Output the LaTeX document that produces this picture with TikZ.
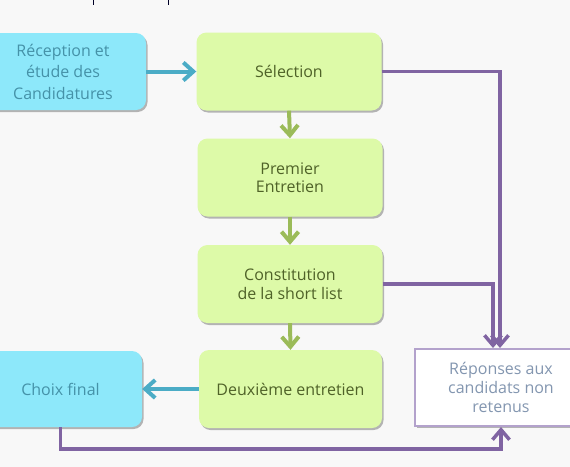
\documentclass[tikz,border=0pt]{standalone}
\usepackage{fontspec}
\setmainfont{Open Sans}
\usetikzlibrary{arrows.meta,shadows}
\definecolor{bg}{HTML}{F8F8F8}
\definecolor{cyanfill}{HTML}{8DE8FA}
\definecolor{cyantext}{HTML}{4592A8}
\definecolor{cyanline}{HTML}{4BACC6}
\definecolor{greenfill}{HTML}{DDFAA8}
\definecolor{greentext}{HTML}{4F6228}
\definecolor{greenline}{HTML}{9BBB59}
\definecolor{purpline}{HTML}{8064A2}
\definecolor{purpborder}{HTML}{B3A2CC}
\definecolor{greytext}{HTML}{8396B0}
\tikzset{
  boxshadow/.style={drop shadow={shadow xshift=1.5pt,shadow yshift=-2pt,opacity=0.4,fill=black!70}},
  boxfont/.style={font=\fontsize{16}{18.5}\selectfont},
  widefont/.style={font=\fontsize{16}{21.5}\selectfont},
  cyanbox/.style={rectangle,rounded corners=10pt,fill=cyanfill,text=cyantext,align=center,boxshadow,boxfont,inner sep=0pt},
  greenbox/.style={rectangle,rounded corners=10pt,fill=greenfill,text=greentext,align=center,boxshadow,boxfont,inner sep=0pt,minimum width=185pt,minimum height=78pt},
  whitebox/.style={rectangle,fill=white,draw=purpborder,line width=2pt,text=greytext,align=center,boxshadow,font=\fontsize{16}{19}\selectfont,inner sep=0pt},
  cyanarrow/.style={draw=cyanline,line width=4pt,-{Straight Barb[length=10pt,width=18pt]}},
  greenarrow/.style={draw=greenline,line width=4pt,-{Straight Barb[length=10pt,width=17pt]}},
  purparrow/.style={draw=purpline,line width=3.5pt,-{Straight Barb[length=10pt,width=17pt]}},
  frag/.style={draw=black!85!blue,line width=1pt}
}
\begin{document}
\begin{tikzpicture}[x=1pt,y=-1pt]
\useasboundingbox (0,0) rectangle (570,466);
\clip (0,0) rectangle (570,466);
\fill[bg] (-5,-5) rectangle (575,471);
% fragments at top
\coordinate (f1a) at (93.5,0); \coordinate (f1b) at (93.5,5);
\coordinate (f2a) at (168.5,0); \coordinate (f2b) at (168.5,5);
\draw[frag] (f1a) -- (f1b);
\draw[frag] (f2a) -- (f2b);
% nodes
\node[cyanbox,widefont,minimum width=166pt,minimum height=77pt] (rec) at (63,71.5) {Réception et\\étude des\\Candidatures};
\node[greenbox] (sel) at (289,71.5) {Sélection};
\node[greenbox] (pre) at (290,177.5) {Premier\\Entretien};
\node[greenbox] (con) at (290,284) {Constitution\\de la short list};
\node[greenbox,minimum width=183pt] (deu) at (290.5,389) {Deuxième entretien};
\node[cyanbox,minimum width=163pt,minimum height=76pt] (cho) at (60.5,389) {Choix final};
\node[whitebox,minimum width=172pt,minimum height=77pt] (rep) at (501,387.5) {Réponses aux\\candidats non\\retenus};
% connectors
\draw[cyanarrow] (rec.east) -- (sel.west);
\draw[greenarrow] (sel.south) -- (pre.north);
\draw[greenarrow] (pre.south) -- (con.north);
\draw[greenarrow] (con.south) -- (deu.north);
\draw[cyanarrow] (deu.west) -- (cho.east);
\draw[purparrow] (sel.east) -| ([xshift=-1pt]rep.north);
\draw[purparrow] (con.east) -| ([xshift=-8pt]rep.north);
\draw[purparrow] (cho.south) -- ++(0,22) -| (rep.south);
\end{tikzpicture}
\end{document}
